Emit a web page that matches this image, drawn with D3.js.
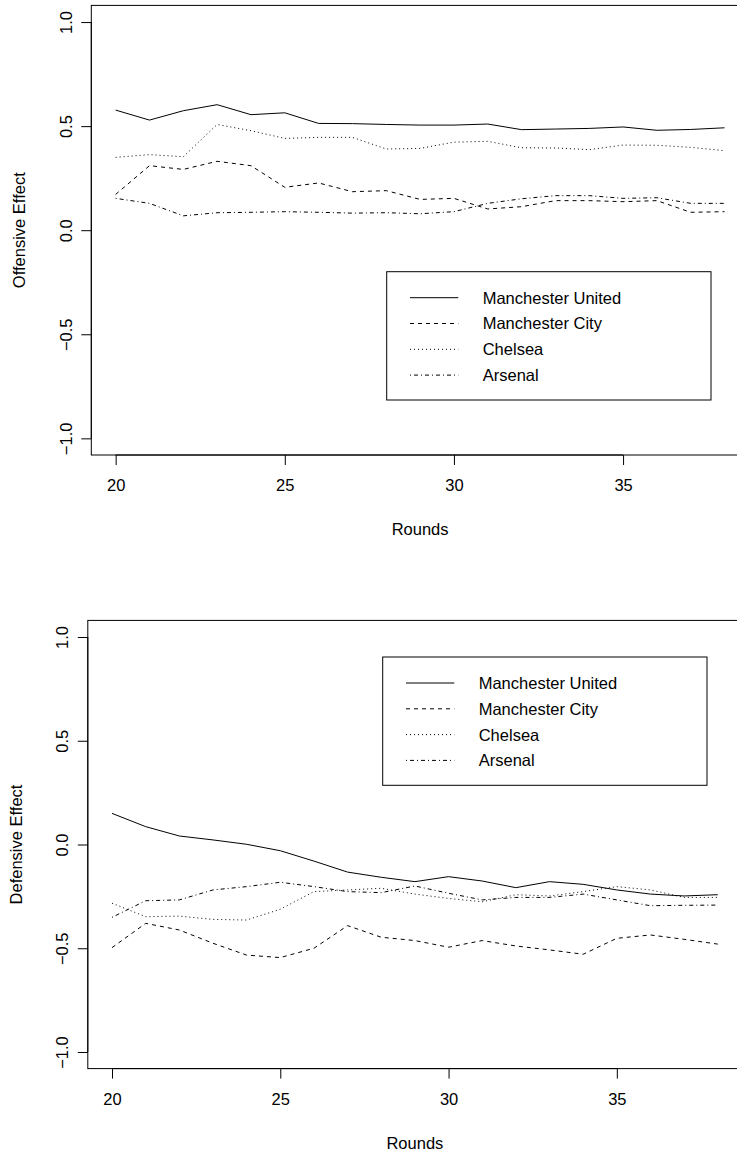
<!DOCTYPE html>
<html>
<head>
<meta charset="utf-8">
<script src="https://cdn.jsdelivr.net/npm/d3@7"></script>
<style>
  body { margin: 0; background: #fff; }
  svg { display: block; font-family: "Liberation Sans", Arial, sans-serif; }
  .tick text { font-size: 16.5px; fill: #000; }
</style>
</head>
<body>
<div id="chart"></div>
<script>
// rounds 20..38
var rounds = [20, 21, 22, 23, 24, 25, 26, 27, 28, 29, 30, 31, 32, 33, 34, 35, 36, 37, 38];
var teams = ["Manchester United", "Manchester City", "Chelsea", "Arsenal"];
var xTicks = [20, 25, 30, 35];
var yTicks = [-1.0, -0.5, 0.0, 0.5, 1.0];

var offUnited  = [0.577, 0.529, 0.574, 0.603, 0.555, 0.564, 0.513, 0.512, 0.508, 0.505, 0.505, 0.510, 0.483, 0.486, 0.489, 0.496, 0.480, 0.484, 0.492];
var offCity    = [0.172, 0.310, 0.292, 0.331, 0.310, 0.206, 0.227, 0.185, 0.190, 0.148, 0.153, 0.102, 0.113, 0.142, 0.142, 0.137, 0.142, 0.086, 0.089];
var offChelsea = [0.350, 0.363, 0.353, 0.508, 0.478, 0.441, 0.446, 0.446, 0.390, 0.393, 0.423, 0.427, 0.396, 0.395, 0.387, 0.409, 0.408, 0.398, 0.382];
var offArsenal = [0.153, 0.129, 0.069, 0.084, 0.086, 0.089, 0.086, 0.082, 0.084, 0.079, 0.089, 0.129, 0.151, 0.166, 0.166, 0.153, 0.156, 0.129, 0.129];

var defUnited  = [0.150, 0.086, 0.041, 0.022, 0.001, -0.030, -0.080, -0.133, -0.158, -0.179, -0.155, -0.176, -0.208, -0.179, -0.192, -0.219, -0.239, -0.248, -0.242];
var defCity    = [-0.497, -0.380, -0.412, -0.476, -0.533, -0.545, -0.500, -0.391, -0.447, -0.463, -0.495, -0.463, -0.489, -0.508, -0.529, -0.452, -0.436, -0.457, -0.480];
var defChelsea = [-0.283, -0.348, -0.345, -0.361, -0.364, -0.312, -0.227, -0.219, -0.211, -0.239, -0.260, -0.276, -0.242, -0.248, -0.227, -0.203, -0.219, -0.255, -0.255];
var defArsenal = [-0.351, -0.271, -0.267, -0.219, -0.203, -0.182, -0.203, -0.227, -0.232, -0.200, -0.235, -0.267, -0.255, -0.255, -0.239, -0.267, -0.295, -0.293, -0.292];

// R line types: solid, dashed, dotted, dotdash
var dashes = [null, "4,4", "1,3", "1,3,4,3"];

var width = 737, height = 1151;

var svg = d3.select("#chart").append("svg")
    .attr("width", width)
    .attr("height", height);

var panels = [
  { series: [offUnited, offCity, offChelsea, offArsenal], title: "Offensive Effect",
    left: 91.3, right: 748.9, top: 5.4, bottom: 455,
    yLabelX: 72, titleX: 25, legendX: 386.7, legendY: 271.7 },
  { series: [defUnited, defCity, defChelsea, defArsenal], title: "Defensive Effect",
    left: 87.8, right: 742, top: 620.4, bottom: 1068.6,
    yLabelX: 68, titleX: 22, legendX: 382.7, legendY: 657 }
];

panels.forEach(drawPanel);

function drawPanel(p) {
  var x = d3.scaleLinear()
    .domain([19.28, 38.72])
    .range([p.left, p.right]);

  var y = d3.scaleLinear()
    .domain([-1.08, 1.08])
    .range([p.bottom, p.top]);

  var g = svg.append("g");

  // lines
  var line = d3.line()
    .x(function(d, i) { return x(rounds[i]); })
    .y(function(d) { return y(d); });

  p.series.forEach(function(s, k) {
    g.append("path")
      .datum(s)
      .attr("d", line)
      .attr("fill", "none")
      .attr("stroke", "#000")
      .attr("stroke-width", 1)
      .attr("stroke-dasharray", dashes[k]);
  });

  // box
  g.append("rect")
    .attr("x", p.left)
    .attr("y", p.top)
    .attr("width", p.right - p.left)
    .attr("height", p.bottom - p.top)
    .attr("fill", "none")
    .attr("stroke", "#000")
    .attr("stroke-width", 1);

  // x axis
  var xAxis = g.append("g")
    .attr("transform", "translate(0," + p.bottom + ")")
    .call(d3.axisBottom(x).tickValues(xTicks).tickSize(10).tickPadding(24).tickFormat(d3.format("d")));
  xAxis.select(".domain")
    .attr("d", "M" + x(xTicks[0]) + ",0H" + x(xTicks[xTicks.length - 1]))
    .attr("stroke", "#000");
  xAxis.selectAll(".tick text").attr("dy", null).attr("y", 36);

  // y axis
  var yAxis = g.append("g")
    .attr("transform", "translate(" + p.left + ",0)")
    .call(d3.axisLeft(y).tickValues(yTicks).tickSize(10).tickFormat(function(d) {
      return d3.format(".1f")(d).replace("-", "\u2212");
    }));
  yAxis.select(".domain")
    .attr("d", "M0," + y(yTicks[0]) + "V" + y(yTicks[yTicks.length - 1]))
    .attr("stroke", "#000");
  yAxis.selectAll(".tick text")
    .attr("transform", "rotate(-90)")
    .attr("text-anchor", "middle")
    .attr("x", 0)
    .attr("dy", null)
    .attr("y", -(p.left - p.yLabelX));

  // axis titles
  g.append("text")
    .attr("x", (p.left + p.right) / 2)
    .attr("y", p.bottom + 80)
    .attr("text-anchor", "middle")
    .style("font-size", "16.5px")
    .text("Rounds");

  g.append("text")
    .attr("transform", "translate(" + p.titleX + "," + (p.top + p.bottom) / 2 + ") rotate(-90)")
    .attr("text-anchor", "middle")
    .style("font-size", "16.5px")
    .text(p.title);

  // legend
  var legend = g.append("g")
    .attr("transform", "translate(" + p.legendX + "," + p.legendY + ")");

  legend.append("rect")
    .attr("width", 324.3)
    .attr("height", 128.3)
    .attr("fill", "#fff")
    .attr("stroke", "#000");

  var rows = legend.selectAll(".row")
    .data(teams)
    .enter().append("g")
    .attr("class", "row")
    .attr("transform", function(d, i) { return "translate(0," + (26 + i * 25.8) + ")"; });

  rows.append("line")
    .attr("x1", 23.3)
    .attr("x2", 71.6)
    .attr("stroke", "#000")
    .attr("stroke-width", 1)
    .attr("stroke-dasharray", function(d, i) { return dashes[i]; });

  rows.append("text")
    .attr("x", 96)
    .attr("dy", "0.36em")
    .style("font-size", "16.5px")
    .text(function(d) { return d; });
}
</script>
</body>
</html>
